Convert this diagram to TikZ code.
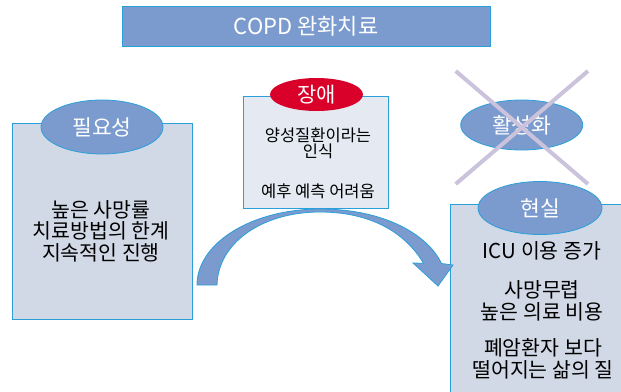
\documentclass[tikz,border=0pt]{standalone}
\usepackage{fontspec}
\setmainfont{Noto Sans CJK KR}
\usetikzlibrary{shapes.geometric}
\definecolor{bluefill}{HTML}{7B9BCF}
\definecolor{edgeblue}{HTML}{2A9FD9}
\definecolor{boxfill}{HTML}{D1D9E6}
\definecolor{midfill}{HTML}{E4E9F2}
\definecolor{redfill}{HTML}{D9002A}
\definecolor{xcol}{HTML}{CBC3DB}
\tikzset{
  titlebox/.style={rectangle, fill=bluefill, draw=edgeblue, line width=1pt, text=white, inner sep=0pt, font=\fontsize{22}{24}\selectfont},
  panel/.style={rectangle, fill=boxfill, draw=edgeblue, line width=1pt, inner sep=0pt},
  midpanel/.style={rectangle, fill=midfill, draw=edgeblue, line width=1pt, inner sep=0pt},
  tag/.style={ellipse, fill=bluefill, draw=edgeblue, line width=0.8pt, text=white, inner sep=0pt, font=\fontsize{21.5}{22}\selectfont},
  redtag/.style={ellipse, fill=redfill, draw=none, text=white, inner sep=0pt, font=\fontsize{21}{22}\selectfont},
  bigtext/.style={align=center, inner sep=0pt, font=\fontsize{20.5}{21.5}\selectfont},
  smalltext/.style={align=center, inner sep=0pt, font=\fontsize{16.5}{16}\selectfont},
  bandarrow/.style={fill=bluefill, draw=edgeblue, line width=0.8pt, line join=miter},
  crossline/.style={draw=xcol, line width=4pt}
}
\begin{document}
\begin{tikzpicture}[x=1pt, y=-1pt]
\clip (0,0) rectangle (621,391);
\fill[white] (0,0) rectangle (621,391);
% title
\node[titlebox, minimum width=368pt, minimum height=40pt] (title) at (306,26) {COPD 완화치료};
% panels
\node[panel, minimum width=180pt, minimum height=196pt] (needbox) at (102,221) {};
\node[midpanel, minimum width=145pt, minimum height=112pt] (barrierbox) at (315.5,152) {};
\node[panel, minimum width=180pt, minimum height=196pt] (realbox) at (540,302) {};
% tags
\node[tag, minimum width=122pt, minimum height=54pt] (need) at (102,127) {필요성};
\node[redtag, minimum width=93pt, minimum height=33pt] (barrier) at (316.5,94.5) {장애};
\node[tag, minimum width=122pt, minimum height=50pt] (activ) at (521.7,125) {활성화};
\node[tag, minimum width=124pt, minimum height=53pt] (real) at (540,208) {현실};
% texts
\node[bigtext] (needtext) at (101,231) {높은 사망률\\치료방법의 한계\\지속적인 진행};
\node[smalltext] (bartext1) at (318,143.5) {양성질환이라는\\인식};
\node[smalltext] (bartext2) at (318,191) {예후 예측 어려움};
\node[bigtext] (realtext1) at (542,251) {ICU 이용 증가};
\node[bigtext] (realtext2) at (542,301) {사망무렵\\높은 의료 비용};
\node[bigtext] (realtext3) at (543,359) {폐암환자 보다\\떨어지는 삶의 질};
% curved block arrow
\filldraw[bandarrow] (197,285) .. controls (197,243) and (252,209) .. (320,209)
  .. controls (385,209) and (428,235) .. (441.5,263.5) -- (453,265) -- (438,286) -- (413,263) -- (423.5,263.3)
  .. controls (405,232) and (370,212) .. (320,212)
  .. controls (262,212) and (218,243) .. (217,285) -- cycle;
% cross
\coordinate (xa) at (455.7,71);
\coordinate (xb) at (588,184);
\coordinate (xc) at (588,71);
\coordinate (xd) at (455.7,184);
\draw[crossline] (xa) -- (xb);
\draw[crossline] (xc) -- (xd);
\end{tikzpicture}
\end{document}
